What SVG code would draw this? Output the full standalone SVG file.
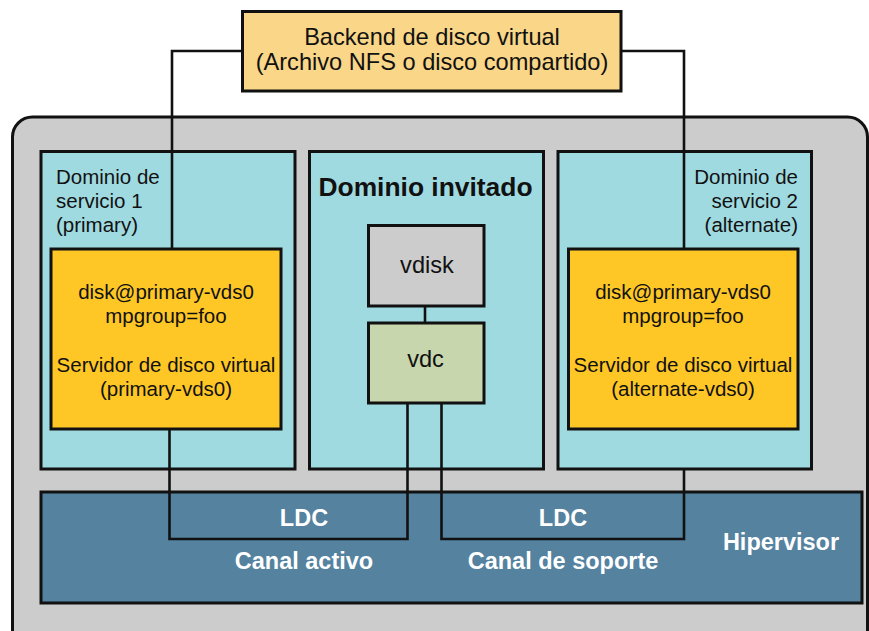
<svg xmlns="http://www.w3.org/2000/svg" width="869" height="631" viewBox="0 0 869 631">
  <style>
    .box { stroke: #111; stroke-width: 3; }
    .wire { fill: none; stroke: #111; stroke-width: 2.6; }
    .t { font-family: "Liberation Sans", Arial, Helvetica, sans-serif; font-size: 20.5px; fill: #111; }
    .big { font-size: 23.6px; }
    .b { font-family: "Liberation Sans", Arial, Helvetica, sans-serif; font-weight: bold; }
    .w { fill: #fff; font-size: 23.5px; }
    .mid { text-anchor: middle; }
    .end { text-anchor: end; }
  </style>

  <!-- physical machine frame -->
  <g id="system">
    <rect class="box" x="12.5" y="117" width="855" height="540" rx="20" fill="#cccccc"/>
  </g>

  <!-- hypervisor band -->
  <g id="hypervisor">
    <rect class="box" x="41" y="492" width="821" height="111" fill="#54829f"/>
    <text class="b w mid" x="781" y="550">Hipervisor</text>
  </g>

  <!-- service domain 1 -->
  <g id="service-domain-1">
    <rect class="box" x="41" y="151.5" width="254" height="317.5" fill="#a0dae1"/>
    <text class="t" x="56" y="184">Dominio de</text>
    <text class="t" x="56" y="208">servicio 1</text>
    <text class="t" x="56" y="232">(primary)</text>
  </g>

  <!-- guest domain -->
  <g id="guest-domain">
    <rect class="box" x="309.5" y="151.5" width="234" height="317.5" fill="#a0dae1"/>
    <text class="b mid" x="425.5" y="196" font-size="26.4" fill="#111">Dominio invitado</text>
  </g>

  <!-- service domain 2 -->
  <g id="service-domain-2">
    <rect class="box" x="558" y="151.5" width="253.5" height="317.5" fill="#a0dae1"/>
    <text class="t end" x="798" y="184">Dominio de</text>
    <text class="t end" x="798" y="208">servicio 2</text>
    <text class="t end" x="798" y="232">(alternate)</text>
  </g>

  <!-- connectors -->
  <g id="connectors">
    <path class="wire" d="M242,51 H172 V249"/>
    <path class="wire" d="M621,51 H684 V249"/>
    <path class="wire" d="M169.5,429 V539 H407.5 V403"/>
    <path class="wire" d="M441.5,403 V539 H684 V469"/>
    <path class="wire" d="M425,306 V323"/>
  </g>

  <!-- virtual disk backend -->
  <g id="backend">
    <rect class="box" x="242.5" y="11.5" width="378.5" height="79.5" fill="#f9d688"/>
    <text class="t big mid" x="432" y="44.5">Backend de disco virtual</text>
    <text class="t big mid" x="432" y="69.5">(Archivo NFS o disco compartido)</text>
  </g>

  <!-- virtual disk server in primary -->
  <g id="vds-primary">
    <rect class="box" x="51" y="249" width="230" height="180" fill="#fec726"/>
    <text class="t mid" x="166" y="299">disk@primary-vds0</text>
    <text class="t mid" x="166" y="323">mpgroup=foo</text>
    <text class="t mid" x="166" y="371.5">Servidor de disco virtual</text>
    <text class="t mid" x="166" y="395.5">(primary-vds0)</text>
  </g>

  <!-- virtual disk server in alternate -->
  <g id="vds-alternate">
    <rect class="box" x="568.5" y="249" width="229.5" height="180" fill="#fec726"/>
    <text class="t mid" x="683" y="299">disk@primary-vds0</text>
    <text class="t mid" x="683" y="323">mpgroup=foo</text>
    <text class="t mid" x="683" y="371.5">Servidor de disco virtual</text>
    <text class="t mid" x="683" y="395.5">(alternate-vds0)</text>
  </g>

  <!-- guest vdisk and vdc -->
  <g id="vdisk">
    <rect class="box" x="368.5" y="225.5" width="115.5" height="80.5" fill="#cccccc"/>
    <text class="t big mid" x="427" y="272.5">vdisk</text>
  </g>
  <g id="vdc">
    <rect class="box" x="368.5" y="323" width="115.5" height="80" fill="#c7d6ac"/>
    <text class="t big mid" x="425.5" y="366.5">vdc</text>
  </g>

  <!-- channel labels -->
  <g id="ldc-active">
    <text class="b w mid" x="304" y="526">LDC</text>
    <text class="b w mid" x="304" y="569">Canal activo</text>
  </g>
  <g id="ldc-standby">
    <text class="b w mid" x="563" y="526">LDC</text>
    <text class="b w mid" x="563" y="569">Canal de soporte</text>
  </g>
</svg>
